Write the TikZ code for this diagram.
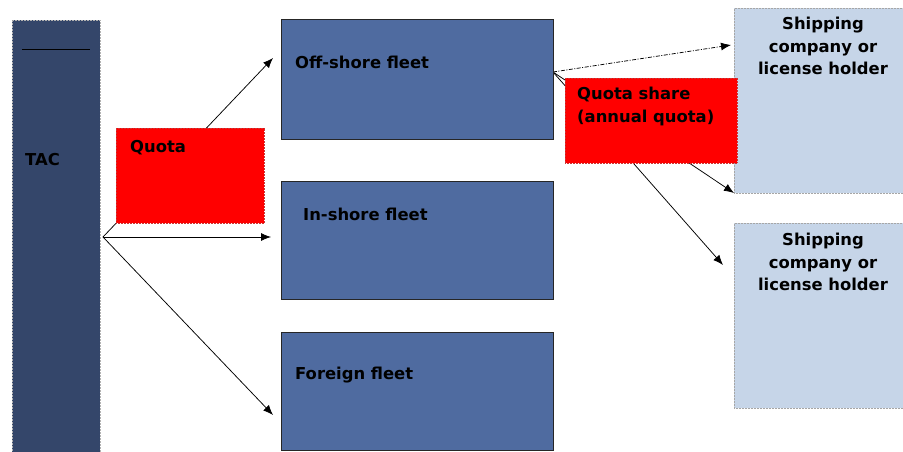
\documentclass[tikz,border=0pt]{standalone}
\usepackage{fontspec}
\setmainfont{DejaVu Sans}
\usetikzlibrary{arrows.meta,backgrounds}
\definecolor{tacblue}{RGB}{52,70,106}
\definecolor{fleetblue}{RGB}{79,107,160}
\definecolor{shipblue}{RGB}{198,213,232}
\begin{document}
\begin{tikzpicture}[x=1pt,y=-1pt,
    box/.style={rectangle,inner sep=0pt,outer sep=0pt},
    fleet/.style={box,fill=fleetblue,draw=black!85,line width=0.6pt,
      minimum width=272pt,minimum height=118pt},
    redbox/.style={box,fill=red,draw=red!60!gray,densely dotted,line width=0.5pt},
    ship/.style={box,fill=shipblue,draw=gray!70,densely dotted,line width=0.5pt,
      minimum width=169pt,minimum height=185pt},
    txt/.style={font=\bfseries\fontsize{16.4}{22.5}\selectfont,inner sep=0pt,anchor=west},
    arr/.style={-{Latex[length=10pt,width=8pt]},line width=0.75pt}]
  \useasboundingbox (0,0) rectangle (903,452);
  \node[box,fill=tacblue,draw=gray!60,densely dotted,line width=0.5pt,
    minimum width=88pt,minimum height=432pt] (tac) at (56,236) {};
  \draw[line width=1pt] (22,50) -- (90,50);
  \node[txt] (tactxt) at (25,160) {TAC};
  \node[fleet,minimum height=120pt] (off) at (417,79) {};
  \node[txt] (offtxt) at (295,62) {Off-shore fleet};
  \node[fleet] (in) at (417,240) {};
  \node[txt] (intxt) at (303,214) {In-shore fleet};
  \node[fleet] (foreign) at (417,391) {};
  \node[txt] (foreigntxt) at (295,375) {Foreign fleet};
  \node[ship] (ship1) at (818.5,100.5) {};
  \node[txt,anchor=north,align=center] (ship1txt) at (823,17)
    {Shipping\\company or\\license holder};
  \node[ship] (ship2) at (818.5,315.5) {};
  \node[txt,anchor=north,align=center] (ship2txt) at (823,233)
    {Shipping\\company or\\license holder};
  \node[redbox,minimum width=148pt,minimum height=95pt] (quota) at (190,175.5) {};
  \node[txt] (quotatxt) at (130,148) {Quota};
  \node[redbox,minimum width=172pt,minimum height=85pt] (share) at (651,120.5) {};
  \node[txt,anchor=north west,align=left] (sharetxt) at (577,87)
    {Quota share\\(annual quota)};
  \coordinate (src) at (103,237);
  \coordinate (fork) at (553,72);
  \begin{pgfonlayer}{background}
    \draw[arr] (src) -- ([xshift=-8pt]off.west |- 0,58);
    \draw[arr] (src) -- ([xshift=-10pt]in.west |- src);
    \draw[arr] (src) -- ([xshift=-8pt]foreign.west |- 0,415);
    \draw[arr,dash pattern=on 4pt off 1.5pt on 1pt off 1.5pt] (fork) -- ([xshift=-3pt]ship1.west |- 0,45);
    \draw[arr] (fork) -- (ship1.south west);
    \draw[arr] (fork) -- ([xshift=-11pt]ship2.west |- 0,265);
  \end{pgfonlayer}
\end{tikzpicture}
\end{document}
